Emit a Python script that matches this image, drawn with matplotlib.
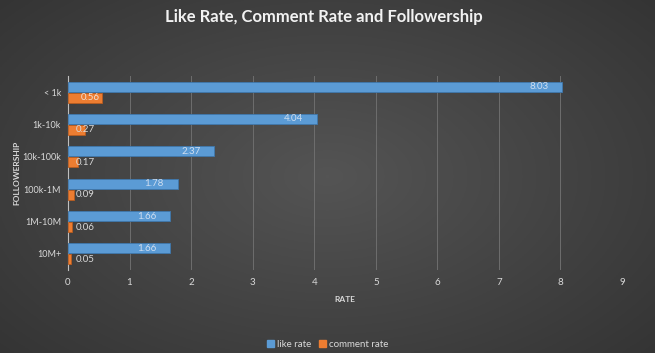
import numpy as np
import matplotlib
matplotlib.use("Agg")
import matplotlib.pyplot as plt
from matplotlib.patches import Patch

plt.rcParams['font.family'] = ['Lato', 'DejaVu Sans']

categories = ['< 1k', '1k-10k', '10k-100k', '100k-1M', '1M-10M', '10M+']
like_rate = [8.03, 4.04, 2.37, 1.78, 1.66, 1.66]
comment_rate = [0.56, 0.27, 0.17, 0.09, 0.06, 0.05]
x_ticks = [0, 1, 2, 3, 4, 5, 6, 7, 8, 9]

blue = '#5b9bd5'
orange = '#ed7d31'
txt = '#d9d9d9'

fig = plt.figure(figsize=(6.55, 3.53), dpi=100)

# radial dark gradient background
bg = fig.add_axes([0, 0, 1, 1], zorder=-1)
yy, xx = np.mgrid[-1:1:200j, -1:1:370j]
r = np.sqrt(xx ** 2 + (yy * 0.9) ** 2)
shade = 0.33 - 0.13 * np.clip(r, 0, 1.4) / 1.4
bg.imshow(np.dstack([shade, shade, shade]), aspect='auto', extent=[0, 1, 0, 1])
bg.axis('off')

ax = fig.add_axes([0.1038, 0.235, 0.8458, 0.55])
ax.patch.set_alpha(0)

pos = np.arange(len(categories))
h = 0.31
ax.barh(pos - 0.17, like_rate, height=h, color=blue, edgecolor='#3f78ad', linewidth=0.6, zorder=3, label='like rate')
ax.barh(pos + 0.17, comment_rate, height=h, color=orange, edgecolor='#b85c20', linewidth=0.6, zorder=3, label='comment rate')

for p, v in zip(pos, like_rate):
    ax.text(v - 0.22, p - 0.17, '%.2f' % v, ha='right', va='center', fontsize=7, color='#cfdef0', zorder=4)
for p, v in zip(pos, comment_rate):
    if v > 0.4:
        ax.text(v - 0.05, p + 0.17, '%.2f' % v, ha='right', va='center', fontsize=7, color='#f0e0d4', zorder=4)
    else:
        ax.text(0.12, p + 0.17, '%.2f' % v, ha='left', va='center', fontsize=7, color=txt, zorder=4)

ax.set_xlim(0, 9)
ax.set_ylim(len(categories) - 0.5, -0.5)
ax.set_xticks(x_ticks)
ax.set_yticks(pos)
ax.set_yticklabels(categories)
ax.tick_params(axis='x', colors=txt, labelsize=7, length=0, pad=6)
ax.tick_params(axis='y', colors=txt, labelsize=6.5, length=0, pad=5)
ax.grid(axis='x', color='#6e6e6e', linewidth=0.7, zorder=0)
for s in ['top', 'right', 'bottom']:
    ax.spines[s].set_visible(False)
ax.spines['left'].set_color('#bfbfbf')
ax.spines['left'].set_linewidth(0.8)

ax.set_xlabel('RATE', color=txt, fontsize=6, fontweight='bold', labelpad=6)
ax.set_ylabel('FOLLOWERSHIP', color=txt, fontsize=6, fontweight='bold')
ax.yaxis.set_label_coords(-0.086, 0.5)

fig.text(0.495, 0.953, 'Like Rate, Comment Rate and Followership', ha='center', va='center',
         fontsize=12, fontweight='bold', color='#f2f2f2')

handles = [Patch(color=blue), Patch(color=orange)]
fig.legend(handles, ['like rate', 'comment rate'], loc='center', bbox_to_anchor=(0.5, 0.025),
           ncol=2, frameon=False, fontsize=7, labelcolor=txt, handlelength=0.7, handleheight=0.7,
           handletextpad=0.3, columnspacing=0.8)

fig.savefig('out.png', dpi=100)
